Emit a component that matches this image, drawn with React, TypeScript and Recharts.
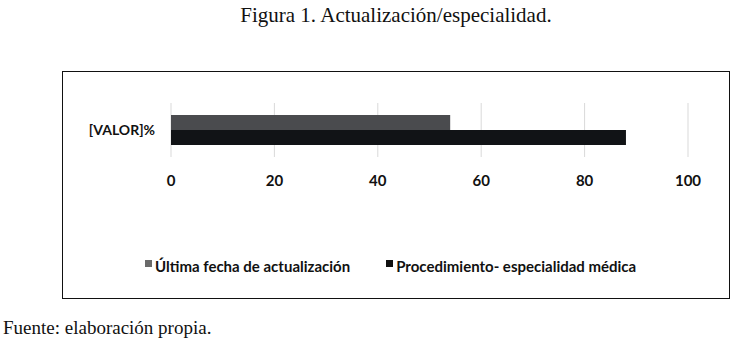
import { BarChart, Bar, XAxis, YAxis, CartesianGrid, Legend } from "recharts";

const categories = ["[VALOR]%"];
const ultimaFecha = [54];
const procedimiento = [88];
const xTicks = [0, 20, 40, 60, 80, 100];

const seriesInfo = [
  { key: "ultima", name: "Última fecha de actualización", color: "#4a4b4e", swatch: "#6a6a6a" },
  { key: "proc", name: "Procedimiento- especialidad médica", color: "#111316", swatch: "#111111" },
];

const data = categories.map((c, i) => ({
  name: c,
  ultima: ultimaFecha[i],
  proc: procedimiento[i],
}));

const sans = "Lato, 'Open Sans', sans-serif";
const serif = "'Liberation Serif', 'DejaVu Serif', serif";

const renderLegend = () => (
  <div
    style={{
      display: "flex",
      alignItems: "center",
      paddingLeft: 82,
      gap: 36,
      fontFamily: sans,
      fontWeight: 700,
      fontSize: 15,
      color: "#111",
    }}
  >
    {seriesInfo.map((s) => (
      <div key={s.key} style={{ display: "flex", alignItems: "center" }}>
        <span
          style={{
            display: "inline-block",
            width: 7,
            height: 7,
            background: s.swatch,
            marginRight: 3,
            marginTop: -5,
          }}
        />
        <span>{s.name}</span>
      </div>
    ))}
  </div>
);

export default function App() {
  return (
    <div
      style={{
        position: "absolute",
        left: 0,
        top: 0,
        width: 735,
        height: 345,
        background: "#fff",
        overflow: "hidden",
      }}
    >
      <div
        style={{
          position: "absolute",
          left: 0,
          width: 792,
          top: 3,
          textAlign: "center",
          fontFamily: serif,
          fontSize: 21,
          color: "#111",
        }}
      >
        Figura 1. Actualización/especialidad.
      </div>

      <div
        style={{
          position: "absolute",
          left: 62,
          top: 71,
          width: 666,
          height: 226,
          border: "1.5px solid #111",
        }}
      >
        <BarChart
          width={666}
          height={226}
          layout="vertical"
          data={data}
          barGap={0}
          barCategoryGap={12}
          margin={{ top: 31, right: 41, bottom: 111, left: 0 }}
        >
          <CartesianGrid horizontal={false} stroke="#d9d9d9" />
          <XAxis
            type="number"
            domain={[0, 100]}
            ticks={xTicks}
            interval={0}
            axisLine={false}
            tickLine={false}
            tickSize={0}
            tickMargin={18}
            height={30}
            tick={{ fill: "#111", fontSize: 15, fontWeight: 700, fontFamily: sans }}
          />
          <YAxis
            type="category"
            dataKey="name"
            width={108}
            axisLine={false}
            tickLine={false}
            tickSize={0}
            tickMargin={16}
            tick={{ fill: "#111", fontSize: 14, fontWeight: 700, fontFamily: sans }}
          />
          {seriesInfo.map((s) => (
            <Bar
              key={s.key}
              dataKey={s.key}
              name={s.name}
              fill={s.color}
              barSize={15}
              isAnimationActive={false}
            />
          ))}
          <Legend
            layout="horizontal"
            verticalAlign="middle"
            align="center"
            content={renderLegend}
            wrapperStyle={{ top: 185, left: 0, width: 666 }}
          />
        </BarChart>
      </div>

      <div
        style={{
          position: "absolute",
          left: 3,
          top: 317,
          fontFamily: serif,
          fontSize: 19,
          color: "#111",
        }}
      >
        Fuente: elaboración propia.
      </div>
    </div>
  );
}
